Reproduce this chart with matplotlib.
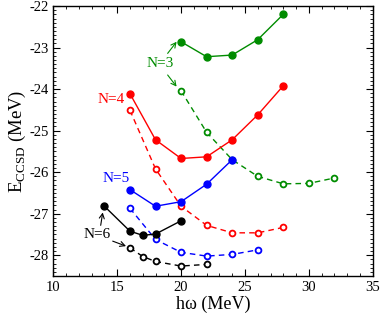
import matplotlib
matplotlib.use("Agg")
import matplotlib.pyplot as plt
from matplotlib.ticker import MultipleLocator

plt.rcParams['font.family'] = ['Liberation Serif', 'DejaVu Serif']
plt.rcParams['mathtext.fontset'] = 'custom'
plt.rcParams['mathtext.rm'] = 'Liberation Serif'
plt.rcParams['axes.unicode_minus'] = False

# N=3
x3s = [20, 22, 24, 26, 28]
y3s = [-22.86, -23.22, -23.18, -22.81, -22.20]
x3o = [20, 22, 24, 26, 28, 30, 32]
y3o = [-24.04, -25.04, -25.70, -26.10, -26.28, -26.27, -26.14]
# N=4
x4s = [16, 18, 20, 22, 24, 26, 28]
y4s = [-24.11, -25.22, -25.67, -25.63, -25.22, -24.62, -23.92]
x4o = [16, 18, 20, 22, 24, 26, 28]
y4o = [-24.51, -25.92, -26.82, -27.28, -27.46, -27.46, -27.33]
# N=5
x5s = [16, 18, 20, 22, 24]
y5s = [-26.42, -26.82, -26.71, -26.29, -25.70]
x5o = [16, 18, 20, 22, 24, 26]
y5o = [-26.87, -27.62, -27.93, -28.02, -27.98, -27.87]
# N=6
x6s = [14, 16, 17, 18, 20]
y6s = [-26.82, -27.42, -27.52, -27.49, -27.17]
x6o = [16, 17, 18, 20, 22]
y6o = [-27.82, -28.03, -28.15, -28.26, -28.22]

green = '#008c00'
red = '#ff0000'
blue = '#0000ff'
black = '#000000'

fig = plt.figure(figsize=(3.82, 3.18), dpi=100)
ax = fig.add_axes([0.1395, 0.132, 0.8362, 0.849])

series = [
    (x3s, y3s, x3o, y3o, green),
    (x4s, y4s, x4o, y4o, red),
    (x5s, y5s, x5o, y5o, blue),
    (x6s, y6s, x6o, y6o, black),
]
for xs, ys, xo, yo, c in series:
    ax.plot(xo, yo, '--', color=c, lw=1.0, dashes=(4, 3), marker='o', ms=4.2,
            mfc='white', mec=c, mew=1.3, zorder=2)
    ax.plot(xs, ys, '-', color=c, lw=1.0, marker='o', ms=5.0, mfc=c, mec=c, zorder=3)

ax.set_xlim(10, 35)
ax.set_ylim(-28.5, -22)
ax.xaxis.set_major_locator(MultipleLocator(5))
ax.xaxis.set_minor_locator(MultipleLocator(1))
ax.yaxis.set_major_locator(MultipleLocator(1))
ax.yaxis.set_minor_locator(MultipleLocator(0.1))
ax.tick_params(which='both', direction='in', top=True, right=True, labelsize=10.5)
ax.tick_params(which='major', length=5, width=0.8)
ax.tick_params(which='minor', length=2.5, width=0.6)
for s in ax.spines.values():
    s.set_linewidth(1.0)

ax.set_xlabel('hω (MeV)', fontsize=13, labelpad=1)
ax.set_ylabel(r'E$_{\rm CCSD}$ (MeV)', fontsize=13.5, labelpad=1)

fs = 11
arr = '->,head_length=0.35,head_width=0.18'
ax.text(18.39, -23.39, 'N=3', color=green, fontsize=fs, ha='center', va='center')
ax.annotate('', xy=(19.65, -22.86), xytext=(18.95, -23.14),
            arrowprops=dict(arrowstyle=arr, color=green, lw=0.8, shrinkA=0, shrinkB=0))
ax.annotate('', xy=(19.65, -23.94), xytext=(18.95, -23.66),
            arrowprops=dict(arrowstyle=arr, color=green, lw=0.8, shrinkA=0, shrinkB=0))
ax.text(14.52, -24.26, 'N=4', color=red, fontsize=fs, ha='center', va='center')
ax.text(14.91, -26.15, 'N=5', color=blue, fontsize=fs, ha='center', va='center')
ax.text(13.44, -27.49, 'N=6', color=black, fontsize=fs, ha='center', va='center')
ax.annotate('', xy=(13.87, -26.97), xytext=(13.71, -27.28),
            arrowprops=dict(arrowstyle=arr, color=black, lw=0.8, shrinkA=0, shrinkB=0))
ax.annotate('', xy=(15.69, -27.78), xytext=(14.65, -27.66),
            arrowprops=dict(arrowstyle=arr, color=black, lw=0.8, shrinkA=0, shrinkB=0))

fig.savefig('out.png', dpi=100)
